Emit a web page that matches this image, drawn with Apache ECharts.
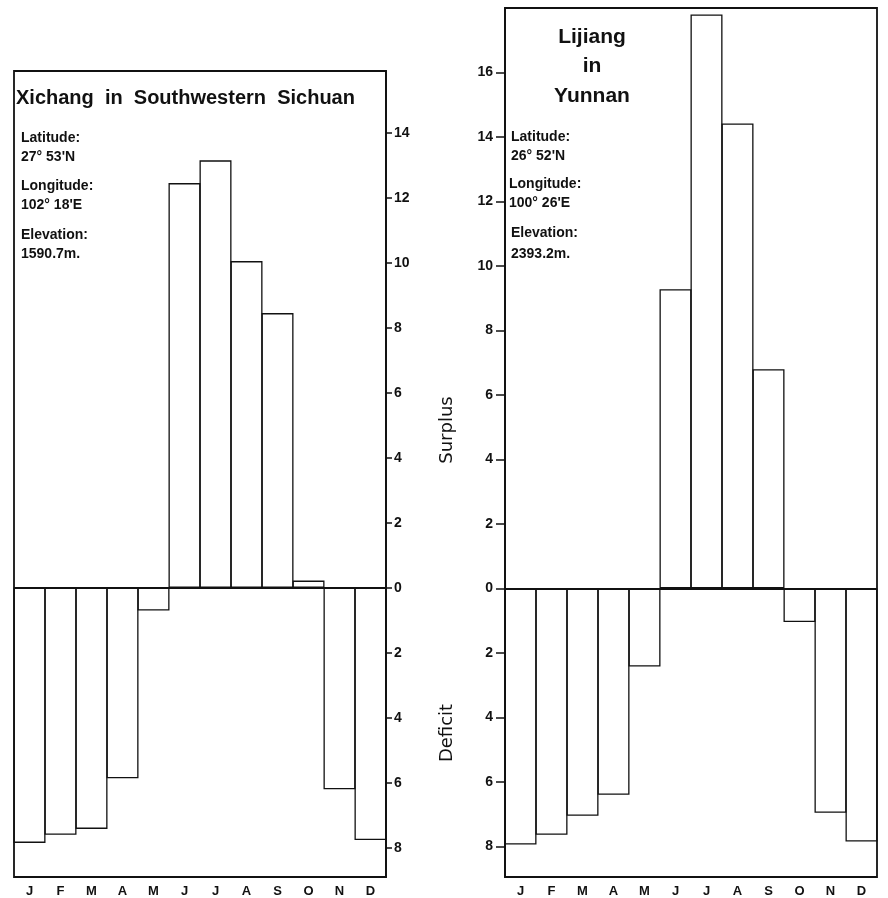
<!DOCTYPE html>
<html>
<head>
    <meta charset="utf-8">
    <title>Xichang / Lijiang surplus and deficit</title>
    <script src="https://cdn.jsdelivr.net/npm/echarts/dist/echarts.min.js"></script>
    <style>
        html, body { margin: 0; padding: 0; background: #fff; }
    </style>
</head>
<body>
    <div id="main" style="width: 888px;height:898px;"></div>
    <script>
        // data
        var months = ['J', 'F', 'M', 'A', 'M', 'J', 'J', 'A', 'S', 'O', 'N', 'D'];
        var xichang = [-7.85, -7.6, -7.42, -5.86, -0.7, 12.45, 13.15, 10.05, 8.45, 0.22, -6.2, -7.76];
        var lijiang = [-7.94, -7.64, -7.05, -6.4, -2.42, 9.28, 17.8, 14.42, 6.8, -1.04, -6.96, -7.85];
        var xichangTicks = [-8, -6, -4, -2, 0, 2, 4, 6, 8, 10, 12, 14];
        var lijiangTicks = [-8, -6, -4, -2, 0, 2, 4, 6, 8, 10, 12, 14, 16];

        var ink = '#111';
        var font = '"Liberation Sans", Arial, sans-serif';
        var wide = '"DejaVu Sans", sans-serif';

        var myChart = echarts.init(document.getElementById('main'));

        function yAxis(idx, pos, min, max, ticks, tickLen, margin) {
            return {
                type: 'value',
                gridIndex: idx,
                position: pos,
                min: min,
                max: max,
                axisLine: { show: true, lineStyle: { color: ink, width: 1.8 } },
                axisTick: { show: true, length: tickLen, customValues: ticks,
                    lineStyle: { color: ink, width: 1.5 } },
                axisLabel: {
                    customValues: ticks,
                    formatter: function (v) { return String(Math.abs(v)); },
                    color: ink, fontFamily: font, fontWeight: 'bold', fontSize: 14, margin: margin
                },
                splitLine: { show: false }
            };
        }

        function xAxis(idx) {
            return {
                type: 'category',
                gridIndex: idx,
                data: months,
                axisLine: { show: false },
                axisTick: { show: false },
                axisLabel: { color: ink, fontFamily: font, fontWeight: 'bold', fontSize: 13, margin: 8 }
            };
        }

        function barSeries(idx, data) {
            return {
                type: 'bar',
                xAxisIndex: idx,
                yAxisIndex: idx,
                data: data,
                barWidth: 32,
                itemStyle: { color: 'rgba(255,255,255,0)', borderColor: ink, borderWidth: 1.3 },
                silent: true,
                markLine: {
                    silent: true,
                    symbol: 'none',
                    label: { show: false },
                    lineStyle: { color: ink, width: 1.8, type: 'solid' },
                    data: [{ yAxis: 0 }]
                }
            };
        }

        function txt(x, y, s, size, align, rot) {
            return {
                type: 'text',
                x: x, y: y,
                rotation: rot || 0,
                style: {
                    text: s, fill: ink, font: 'bold ' + size + 'px ' + font,
                    align: align || 'left', verticalAlign: 'middle'
                }
            };
        }

        var option = {
            backgroundColor: '#fff',
            animation: false,
            grid: [
                { left: 14, top: 71, width: 372, height: 808, show: true,
                  borderColor: ink, borderWidth: 1.8, containLabel: false },
                { left: 505, top: 8, width: 372, height: 871, show: true,
                  borderColor: ink, borderWidth: 1.8, containLabel: false }
            ],
            xAxis: [xAxis(0), xAxis(1)],
            yAxis: [
                yAxis(0, 'right', -8.9, 15.9, xichangTicks, 6, 8),
                yAxis(1, 'left', -8.95, 18, lijiangTicks, 9, 12)
            ],
            series: [barSeries(0, xichang), barSeries(1, lijiang)],
            graphic: [
                txt(16, 98, 'Xichang  in  Southwestern  Sichuan', 20),
                txt(21, 138, 'Latitude:', 14),
                txt(21, 157, '27° 53\'N', 14),
                txt(21, 186, 'Longitude:', 14),
                txt(21, 205, '102° 18\'E', 14),
                txt(21, 235, 'Elevation:', 14),
                txt(21, 254, '1590.7m.', 14),

                txt(592, 37, 'Lijiang', 21, 'center'),
                txt(592, 66, 'in', 21, 'center'),
                txt(592, 96, 'Yunnan', 21, 'center'),
                txt(511, 137, 'Latitude:', 14),
                txt(511, 156, '26° 52\'N', 14),
                txt(509, 184, 'Longitude:', 14),
                txt(509, 203, '100° 26\'E', 14),
                txt(511, 233, 'Elevation:', 14),
                txt(511, 254, '2393.2m.', 14),

                {
                    type: 'text', x: 447, y: 430, rotation: Math.PI / 2,
                    style: { text: 'Surplus', fill: ink, font: '18px ' + wide,
                        align: 'center', verticalAlign: 'middle' }
                },
                {
                    type: 'text', x: 447, y: 733, rotation: Math.PI / 2,
                    style: { text: 'Deficit', fill: ink, font: '18px ' + wide,
                        align: 'center', verticalAlign: 'middle' }
                }
            ]
        };

        myChart.setOption(option);
    </script>
</body>
</html>
